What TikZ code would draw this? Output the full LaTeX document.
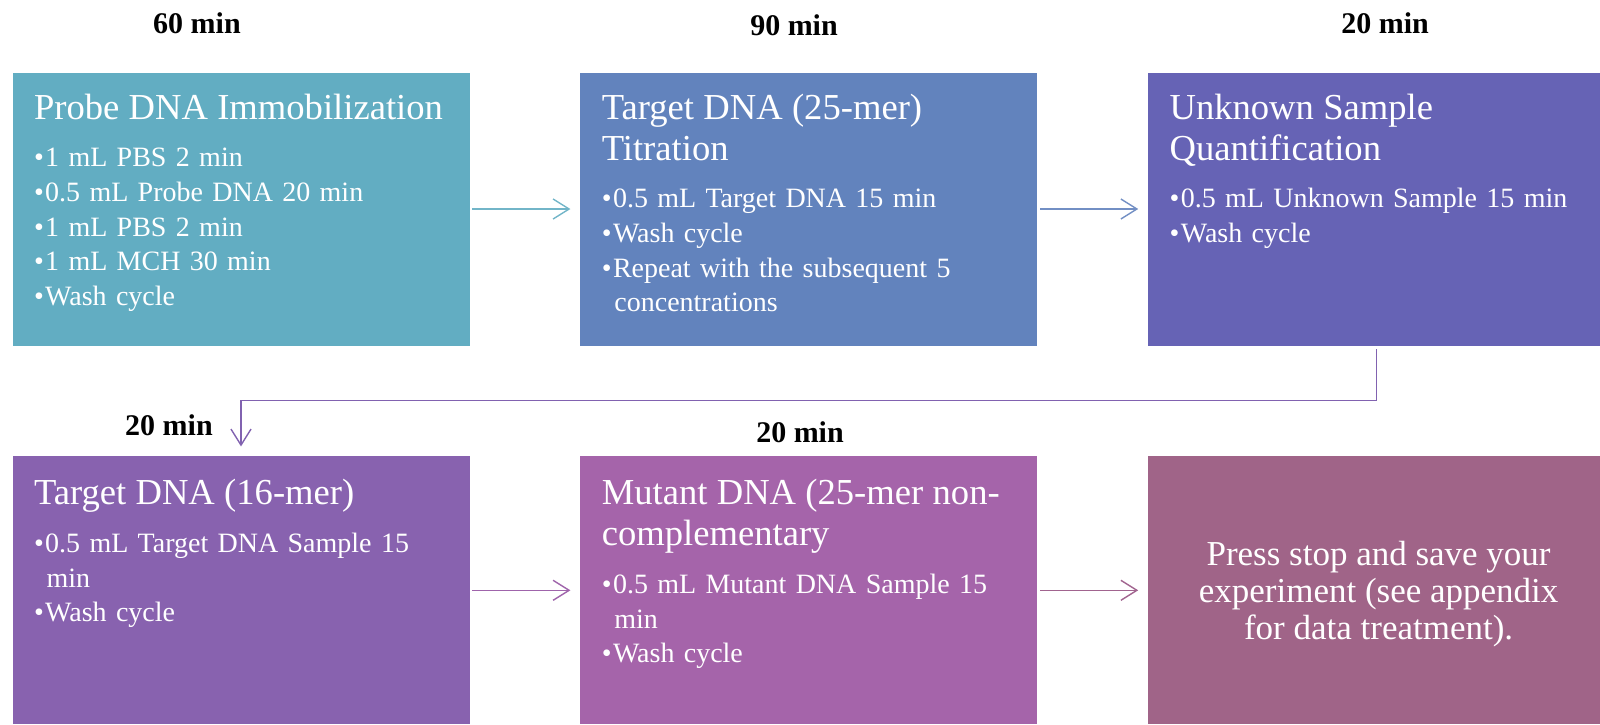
\documentclass[tikz,border=0pt]{standalone}
\usepackage{fontspec}
\setmainfont{Liberation Serif}
\usepackage{xcolor}
\usepackage{tikz}
\usetikzlibrary{arrows.meta, positioning, calc}
\definecolor{teal1}{RGB}{98,173,194}
\definecolor{blue2}{RGB}{98,131,189}
\definecolor{indigo3}{RGB}{102,99,181}
\definecolor{violet4}{RGB}{136,98,175}
\definecolor{purple5}{RGB}{165,100,170}
\definecolor{mauve6}{RGB}{160,100,136}

\newcommand{\boxtitle}[1]{{\fontsize{18.3}{20.5}\selectfont\rule{0pt}{14pt}#1\par}\vspace{6.5pt}}
\newcommand{\bitem}[1]{\par\hangindent=0.45em\hangafter=1\noindent\textbullet\hspace{0.05em}#1\par}

\begin{document}
\begin{tikzpicture}[
				x=0.5pt, y=-0.5pt,
				node distance=54.5pt,
				stepbox/.style={rectangle, draw=white, line width=0.4pt, inner sep=0pt,
					minimum width=229pt, minimum height=137pt},
				lowbox/.style={stepbox, minimum height=134.5pt},
				textblock/.style={anchor=north west, inner sep=0pt, text width=215pt, align=left,
					text=white, font=\fontsize{14}{17.35}\selectfont},
				flow/.style={-{Straight Barb[length=8pt, width=10pt]}, line width=0.7pt,
					shorten <=1pt, shorten >=4.5pt},
				time/.style={font=\fontsize{15}{18}\selectfont\bfseries}
				]
				
				\useasboundingbox (0,0) rectangle (1600,724);
				
				% Nodes
				\node[stepbox, fill=teal1] (probe) at (241,209) {};
				\node[stepbox, fill=blue2, right=of probe] (target25) {};
				\node[stepbox, fill=indigo3, right=of target25] (unknown) {};
				\node[lowbox, fill=violet4, below=of probe] (target16) {};
				\node[lowbox, fill=purple5, right=of target16] (mutant) {};
				\node[lowbox, fill=mauve6, right=of mutant] (finish) {};
				
				% Texts
				\node[textblock] (probetxt) at ([xshift=11pt, yshift=-9.5pt]probe.north west)
					{\boxtitle{Probe DNA Immobilization}
					\bitem{1 mL PBS 2 min}
					\bitem{0.5 mL Probe DNA 20 min}
					\bitem{1 mL PBS 2 min}
					\bitem{1 mL MCH 30 min}
					\bitem{Wash cycle}};
				\node[textblock] (target25txt) at ([xshift=11pt, yshift=-9.5pt]target25.north west)
					{\boxtitle{Target DNA (25-mer)\\Titration}
					\bitem{0.5 mL Target DNA 15 min}
					\bitem{Wash cycle}
					\bitem{Repeat with the subsequent 5\break concentrations}};
				\node[textblock] (unknowntxt) at ([xshift=11pt, yshift=-9.5pt]unknown.north west)
					{\boxtitle{Unknown Sample\\Quantification}
					\bitem{0.5 mL Unknown Sample 15 min}
					\bitem{Wash cycle}};
				\node[textblock] (target16txt) at ([xshift=11pt, yshift=-10.5pt]target16.north west)
					{\boxtitle{Target DNA (16-mer)}
					\bitem{0.5 mL Target DNA Sample 15\break min}
					\bitem{Wash cycle}};
				\node[textblock] (mutanttxt) at ([xshift=11pt, yshift=-10.5pt]mutant.north west)
					{\boxtitle{Mutant DNA (25-mer non-\\complementary}
					\bitem{0.5 mL Mutant DNA Sample 15\break min}
					\bitem{Wash cycle}};
				\node[text=white, align=center, font=\fontsize{17.5}{18.4}\selectfont]
					(finishtxt) at ([xshift=1pt, yshift=-2pt]finish.center)
					{Press stop and save your\\experiment (see appendix\\for data treatment).};
				
				% Times
				\node[time] (time1) at (197,23) {60 min};
				\node[time] (time2) at (794,25) {90 min};
				\node[time] (time3) at (1385,23) {20 min};
				\node[time] (time4) at (169,425) {20 min};
				\node[time] (time5) at (800,432) {20 min};
				
				% Arrows
				\draw[flow, color=teal1!90!white] (probe.east) -- (target25.west);
				\draw[flow, color=blue2!90!white] (target25.east) -- (unknown.west);
				\draw[flow, color=violet4!80!indigo3, shorten <=1.5pt] (unknown.south) -- ++(0,54) -| (target16.north);
				\draw[flow, color=purple5!80!violet4] (target16.east) -- (mutant.west);
				\draw[flow, color=mauve6!80!purple5] (mutant.east) -- (finish.west);
				
			\end{tikzpicture}
\end{document}
